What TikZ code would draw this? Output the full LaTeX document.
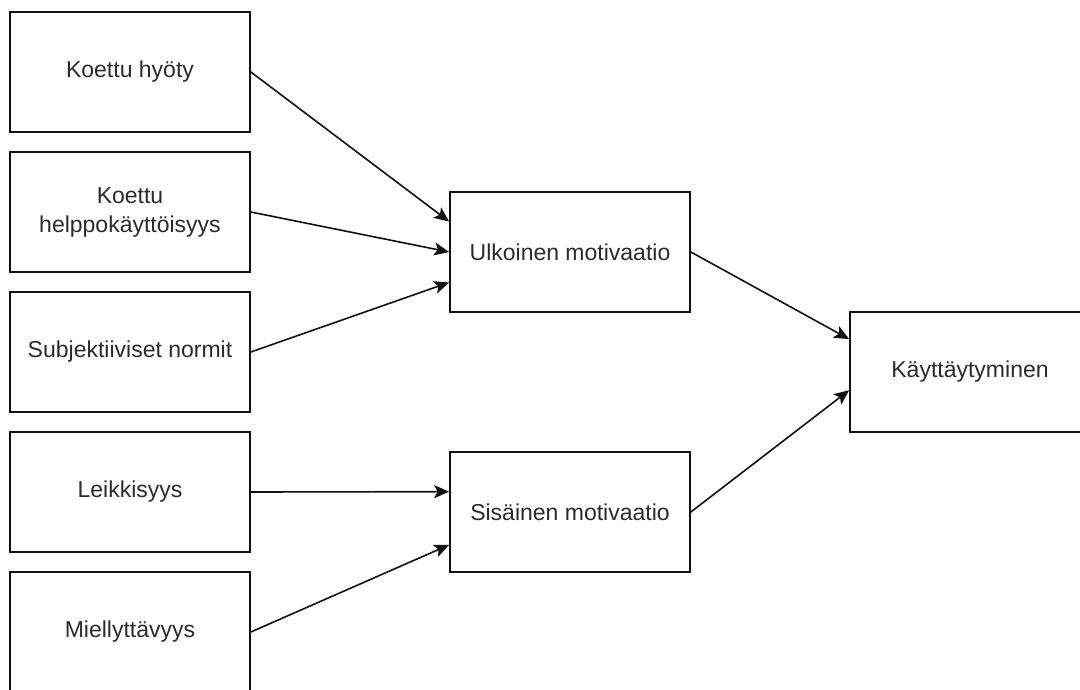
\documentclass[tikz,border=0pt]{standalone}
\usepackage{fontspec}
\setmainfont{Liberation Sans}
\usetikzlibrary{arrows.meta,calc}
\definecolor{ink}{HTML}{111111}
\definecolor{txt}{HTML}{2B2B2B}
\newcommand{\boxfont}{\fontsize{23}{29}\selectfont}

\begin{document}
\begin{tikzpicture}[x=1pt,y=-1pt,font=\boxfont,
  factor/.style={draw=ink,line width=1.7pt,fill=white,text=txt,align=center,
    minimum width=240pt,minimum height=120pt,inner sep=0pt},
  link/.style={ink,line width=1.6pt,-{Stealth[length=15pt,width=13pt,inset=3.5pt]}}]
\clip (0,0) rectangle (1080,690);
\fill[white] (0,0) rectangle (1080,690);
% left column
\node[factor] (hyoty) at (130,72) {Koettu hyöty};
\node[factor] (helppo) at (130,212) {Koettu\\helppokäyttöisyys};
\node[factor] (normit) at (130,352) {Subjektiiviset normit};
\node[factor] (leikki) at (130,492) {Leikkisyys};
\node[factor] (miell) at (130,632) {Miellyttävyys};
% motivation
\node[factor] (ulk) at (570,252) {Ulkoinen motivaatio};
\node[factor] (sis) at (570,512) {Sisäinen motivaatio};
\node[factor] (kayt) at (970,372) {Käyttäytyminen};
% entry points
\coordinate (ulk1) at ($(ulk.north west)!0.25!(ulk.south west)$);
\coordinate (ulk3) at ($(ulk.north west)!0.75!(ulk.south west)$);
\coordinate (sis1) at ($(sis.north west)!0.333!(sis.south west)$);
\coordinate (sis2) at ($(sis.north west)!0.77!(sis.south west)$);
\coordinate (kayt1) at ($(kayt.north west)!0.23!(kayt.south west)$);
\coordinate (kayt2) at ($(kayt.north west)!0.65!(kayt.south west)$);
\draw[link] (hyoty.east) -- (ulk1);
\draw[link] (helppo.east) -- (ulk.west);
\draw[link] (normit.east) -- (ulk3);
\draw[link] (leikki.east) -- (sis1);
\draw[link] (miell.east) -- (sis2);
\draw[link] (ulk.east) -- (kayt1);
\draw[link] (sis.east) -- (kayt2);
\end{tikzpicture}
\end{document}
